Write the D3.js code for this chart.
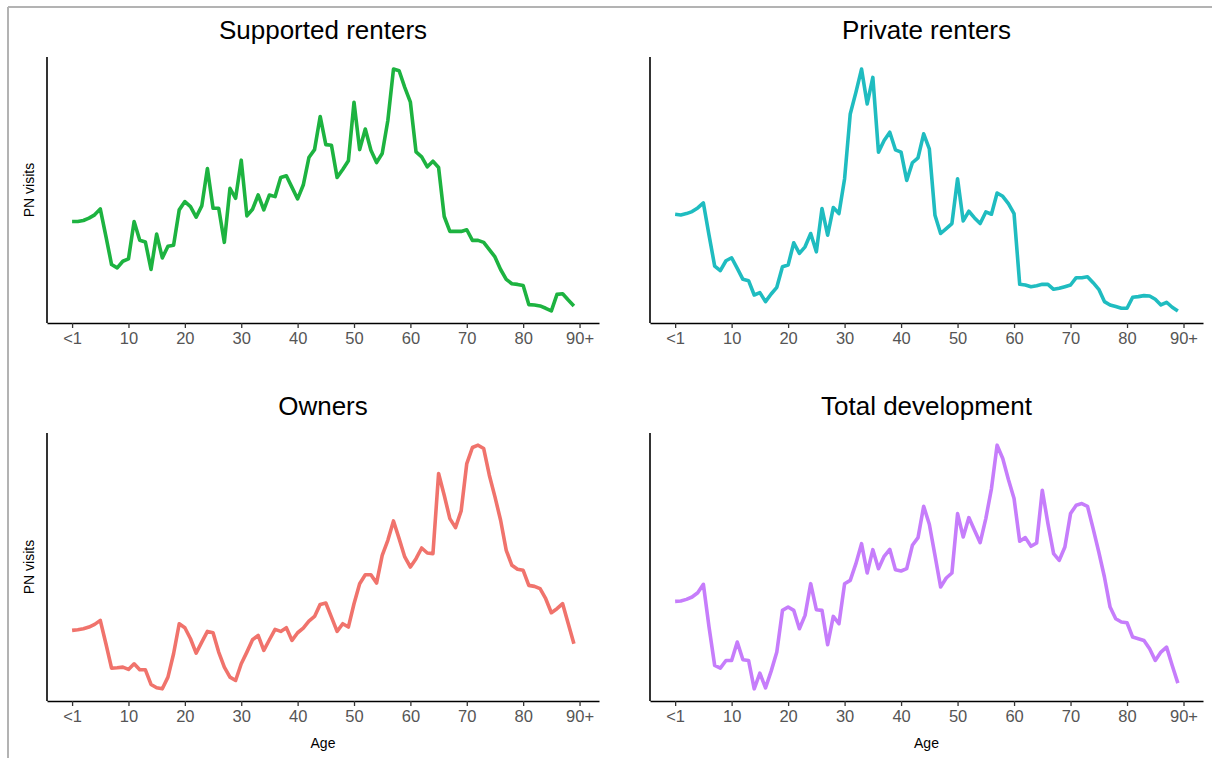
<!DOCTYPE html>
<html>
<head>
<meta charset="utf-8">
<script src="https://cdn.jsdelivr.net/npm/d3@7"></script>
<style>
  body { margin: 0; background: #fff; }
  svg { display: block; font-family: "Liberation Sans", Arial, sans-serif; }
</style>
</head>
<body>
<div id="chart"></div>
<script>
const width = 1212;
const height = 758;

// ages 0..89 (0 is shown as "<1", 90 tick as "90+")
const ages = [0,1,2,3,4,5,6,7,8,9,10,11,12,13,14,15,16,17,18,19,20,21,22,23,24,25,26,27,28,29,
  30,31,32,33,34,35,36,37,38,39,40,41,42,43,44,45,46,47,48,49,50,51,52,53,54,55,56,57,58,59,
  60,61,62,63,64,65,66,67,68,69,70,71,72,73,74,75,76,77,78,79,80,81,82,83,84,85,86,87,88,89];

const tickValues = [0, 10, 20, 30, 40, 50, 60, 70, 80, 90];
const tickLabels = ["<1", "10", "20", "30", "40", "50", "60", "70", "80", "90+"];

// relative PN visits (no y scale shown)
const supported = [307,307,310,317,327,345,262,177,167,187,194,307,250,245,162,269,197,232,235,342,
  367,352,320,354,467,347,347,244,407,377,492,324,344,387,342,387,382,440,445,410,
  375,417,500,524,624,539,537,440,464,490,667,524,586,522,485,512,612,767,762,712,
  667,517,502,472,489,470,322,277,277,277,282,250,250,244,222,200,162,132,119,117,
  114,56,55,52,45,37,87,89,70,52];

const privateRent = [330,328,332,338,349,364,267,174,160,190,199,167,134,130,87,94,67,90,110,172,
  177,244,212,232,272,217,347,267,350,332,437,632,697,767,662,742,517,552,577,524,
  517,432,485,500,572,527,327,272,287,302,437,310,339,319,302,337,330,394,384,362,
  332,119,117,112,115,119,119,104,107,112,117,139,139,142,124,104,67,57,52,47,
  47,80,82,85,84,74,57,65,50,39];

const owners = [212,214,217,222,230,242,172,99,100,102,95,112,94,94,50,40,37,72,142,232,
  220,187,144,177,209,205,147,102,72,62,112,147,184,197,152,184,215,209,220,182,
  205,219,240,254,290,294,252,209,232,222,292,352,379,379,354,437,482,540,487,432,
  402,427,459,444,442,682,617,547,520,570,712,760,767,757,677,612,542,452,407,395,
  392,347,344,337,307,265,277,292,232,172];

const total = [299,300,305,312,325,350,222,107,99,122,122,177,124,122,37,84,40,90,147,272,
  282,272,217,257,352,274,272,169,254,232,352,362,412,472,384,454,397,434,455,394,
  390,397,467,490,584,530,437,342,369,384,562,492,550,512,475,547,637,767,727,664,
  607,479,490,464,474,632,532,442,422,462,562,587,592,584,517,447,372,282,247,237,
  235,192,187,182,157,122,147,162,107,54];

const titles = ["Supported renters", "Private renters", "Owners", "Total development"];
const seriesList = [supported, privateRent, owners, total];
const colors = ["#1db340", "#1fbcc0", "#f0736c", "#c67dfb"];

// panel boxes (plot area)
const cols = [{ x0: 47, x1: 599 }, { x0: 650, x1: 1203 }];
const rows = [{ y0: 57, y1: 323 }, { y0: 433, y1: 701 }];

const svg = d3.select("#chart").append("svg")
  .attr("width", width).attr("height", height);

// screenshot frame
svg.append("line").attr("x1", 8).attr("x2", width).attr("y1", 7).attr("y2", 7)
  .attr("stroke", "#b3b3b3").attr("stroke-width", 2);
svg.append("line").attr("x1", 8).attr("x2", 8).attr("y1", 7).attr("y2", height)
  .attr("stroke", "#b3b3b3").attr("stroke-width", 2);

seriesList.forEach((values, i) => {
  const col = cols[i % 2];
  const row = rows[Math.floor(i / 2)];

  const x = d3.scaleLinear().domain([-4.45, 93.45]).range([col.x0, col.x1]);
  const [lo, hi] = d3.extent(values);
  const pad = (hi - lo) * 0.05;
  const y = d3.scaleLinear().domain([lo - pad, hi + pad]).range([row.y1, row.y0]);

  const g = svg.append("g");

  // title
  g.append("text")
    .attr("x", (col.x0 + col.x1) / 2)
    .attr("y", row.y0 - 18)
    .attr("text-anchor", "middle")
    .attr("font-size", 26)
    .attr("fill", "#000")
    .text(titles[i]);

  // line
  const line = d3.line().x((d, j) => x(ages[j])).y(d => y(d));
  g.append("path")
    .datum(values)
    .attr("d", line)
    .attr("fill", "none")
    .attr("stroke", colors[i])
    .attr("stroke-width", 3.6)
    .attr("stroke-linejoin", "round");

  // x axis
  const xAxis = d3.axisBottom(x)
    .tickValues(tickValues)
    .tickFormat((d, k) => tickLabels[k])
    .tickSizeInner(5)
    .tickSizeOuter(0)
    .tickPadding(4);
  const ax = g.append("g")
    .attr("transform", `translate(0,${row.y1})`)
    .call(xAxis);
  ax.select(".domain").attr("stroke", "#000").attr("stroke-width", 1.6);
  ax.selectAll(".tick line").attr("stroke", "#333").attr("stroke-width", 1.3);
  ax.selectAll(".tick text")
    .attr("font-size", 16.5)
    .attr("font-family", "Liberation Sans, Arial, sans-serif")
    .attr("fill", "#555");

  // y axis line (no ticks)
  g.append("line")
    .attr("x1", col.x0).attr("x2", col.x0)
    .attr("y1", row.y0).attr("y2", row.y1)
    .attr("stroke", "#000").attr("stroke-width", 1.6);

  // axis titles
  if (i % 2 === 0) {
    g.append("text")
      .attr("transform", `translate(34,${(row.y0 + row.y1) / 2}) rotate(-90)`)
      .attr("text-anchor", "middle")
      .attr("font-size", 14)
      .attr("fill", "#000")
      .text("PN visits");
  }
  if (i >= 2) {
    g.append("text")
      .attr("x", (col.x0 + col.x1) / 2)
      .attr("y", row.y1 + 47)
      .attr("text-anchor", "middle")
      .attr("font-size", 14)
      .attr("fill", "#000")
      .text("Age");
  }
});
</script>
</body>
</html>
